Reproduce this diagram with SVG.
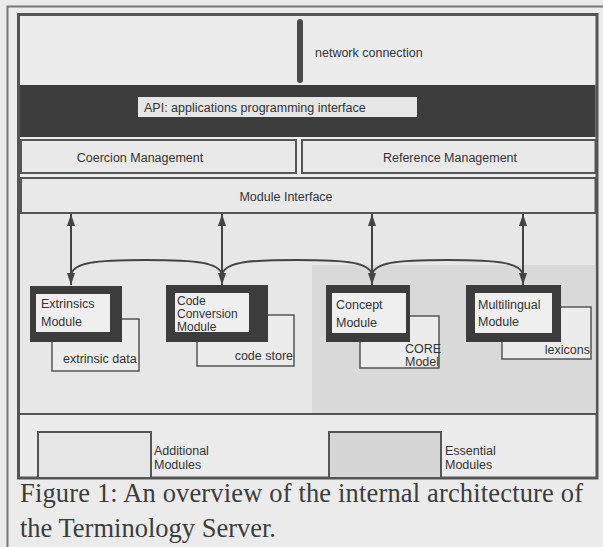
<svg xmlns="http://www.w3.org/2000/svg" width="603" height="547" viewBox="0 0 603 547">
<style>
.lbl{font-family:"Liberation Sans",Arial,sans-serif;font-size:12.5px;fill:#333}
.sm{font-size:12px}
.cap{font-family:"Liberation Serif","Times New Roman",serif;font-size:26.5px;fill:#3c3c3c}
.box{fill:#e9e9e9;stroke:#555;stroke-width:2}
.data{fill:#ececec;stroke:#555;stroke-width:1.5}
.frame{fill:#3c3c3c}
.inner{fill:#efefef}
.conn{fill:none;stroke:#444;stroke-width:2}
</style>
<defs>
<marker id="ah" viewBox="0 0 12 8" refX="12" refY="4" markerWidth="12" markerHeight="8" markerUnits="userSpaceOnUse" orient="auto-start-reverse">
<path d="M0,0 L12,4 L0,8 z" fill="#444"/>
</marker>
</defs>
<rect width="603" height="547" fill="#ebebeb"/>
<path d="M7.5,547 V6.5 H603" fill="none" stroke="#777" stroke-width="2"/>

<g id="frame">
<rect x="18.5" y="14.5" width="578.5" height="463.5" fill="#ececec" stroke="#555" stroke-width="3"/>
</g>

<g id="network">
<line x1="300" y1="22" x2="300" y2="80" stroke="#4a4a4a" stroke-width="6" stroke-linecap="round"/>
<text class="lbl" x="315" y="57">network connection</text>
</g>

<g id="api">
<rect x="20" y="85" width="575.5" height="52" fill="#3d3d3d"/>
<rect x="138" y="97" width="279" height="20" fill="#e6e6e6"/>
<text class="lbl" x="144" y="112">API: applications programming interface</text>
</g>

<g id="coercion">
<rect class="box" x="21" y="140" width="275" height="33"/>
<text class="lbl" x="140" y="162" text-anchor="middle">Coercion Management</text>
</g>
<g id="reference">
<rect class="box" x="302" y="140" width="293.5" height="33"/>
<text class="lbl" x="450" y="162" text-anchor="middle">Reference Management</text>
</g>
<g id="module-interface">
<rect class="box" x="21" y="178" width="574.5" height="35"/>
<text class="lbl" x="286" y="201" text-anchor="middle">Module Interface</text>
</g>

<g id="lower-area">
<rect x="20" y="214" width="575.5" height="199" fill="#e7e7e7"/>
<rect x="312" y="265" width="283.5" height="148" fill="#d9d9d9"/>
<line x1="19" y1="414" x2="596" y2="414" stroke="#555" stroke-width="2"/>
</g>

<g id="connectors">
<line class="conn" x1="71" y1="285" x2="71" y2="214" marker-start="url(#ah)" marker-end="url(#ah)"/>
<line class="conn" x1="222" y1="285" x2="222" y2="214" marker-start="url(#ah)" marker-end="url(#ah)"/>
<line class="conn" x1="372" y1="285" x2="372" y2="214" marker-start="url(#ah)" marker-end="url(#ah)"/>
<line class="conn" x1="523" y1="285" x2="523" y2="214" marker-start="url(#ah)" marker-end="url(#ah)"/>
<path class="conn" d="M71,274 C75,263 92,260 146,260 C200,260 218,263 222,274"/>
<path class="conn" d="M222,274 C226,263 243,260 297,260 C351,260 368,263 372,274"/>
<path class="conn" d="M372,274 C376,263 393,260 447,260 C501,260 519,263 523,274"/>
</g>

<g id="extrinsics">
<rect class="data" x="52" y="319" width="87" height="52"/>
<text class="lbl" x="63" y="363">extrinsic data</text>
<rect class="frame" x="30" y="286" width="92" height="56"/>
<rect class="inner" x="36" y="294" width="74" height="38"/>
<text class="lbl" x="41" y="308">Extrinsics</text>
<text class="lbl" x="41" y="326">Module</text>
</g>

<g id="code-conversion">
<rect class="data" x="197" y="315" width="97" height="51"/>
<text class="lbl" x="293" y="360" text-anchor="end">code store</text>
<rect class="frame" x="166" y="285" width="102" height="57"/>
<rect class="inner" x="175" y="293" width="74" height="39"/>
<text class="lbl sm" x="177" y="305">Code</text>
<text class="lbl sm" x="177" y="318">Conversion</text>
<text class="lbl sm" x="177" y="331">Module</text>
</g>

<g id="concept">
<rect class="data" x="360" y="316" width="79" height="52"/>
<rect class="frame" x="326" y="285" width="84" height="57"/>
<rect class="inner" x="332" y="293" width="74" height="40"/>
<text class="lbl" x="336" y="309">Concept</text>
<text class="lbl" x="336" y="327">Module</text>
<text class="lbl" x="405" y="353">CORE</text>
<text class="lbl" x="405" y="366">Model</text>
</g>

<g id="multilingual">
<rect class="data" x="502" y="307" width="89" height="52"/>
<text class="lbl" x="590" y="354" text-anchor="end">lexicons</text>
<rect class="frame" x="466" y="285" width="95" height="57"/>
<rect class="inner" x="475" y="293" width="77" height="40"/>
<text class="lbl" x="478" y="309">Multilingual</text>
<text class="lbl" x="478" y="326">Module</text>
</g>

<g id="legend-additional">
<rect x="38" y="432" width="113" height="46" fill="#e6e6e6" stroke="#555" stroke-width="2"/>
<text class="lbl" x="154" y="455">Additional</text>
<text class="lbl" x="154" y="469">Modules</text>
</g>
<g id="legend-essential">
<rect x="329" y="432" width="112" height="46" fill="#d6d6d6" stroke="#555" stroke-width="2"/>
<text class="lbl" x="445" y="455">Essential</text>
<text class="lbl" x="445" y="469">Modules</text>
</g>

<g id="caption">
<text class="cap" x="20" y="502" textLength="563" lengthAdjust="spacing">Figure 1: An overview of the internal architecture of</text>
<text class="cap" x="20" y="537">the Terminology Server.</text>
</g>
</svg>
